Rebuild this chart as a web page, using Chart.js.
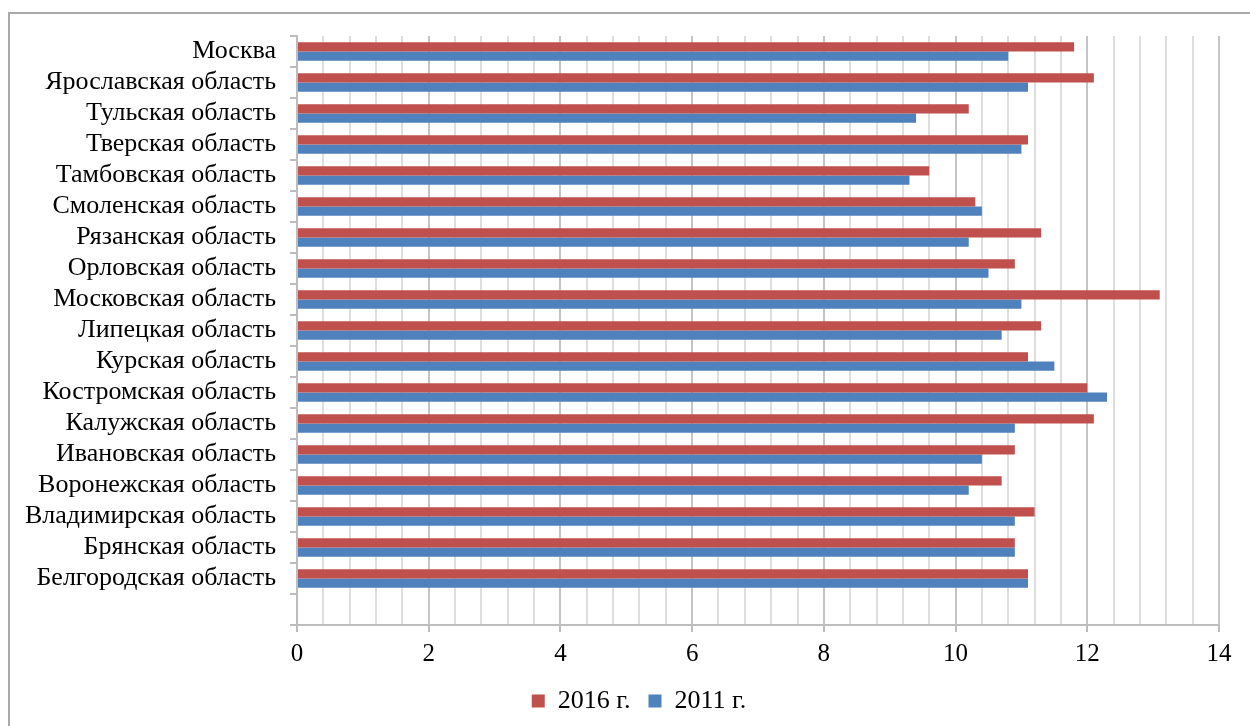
<!DOCTYPE html>
<html lang="ru">
<head>
<meta charset="utf-8">
<title>Регионы ЦФО: 2011 и 2016 гг.</title>
<script src="https://cdn.jsdelivr.net/npm/chart.js@4"></script>
<style>
  html, body { margin: 0; padding: 0; background: #fff; }
  #wrap { position: relative; width: 1250px; height: 726px; overflow: hidden; }
  #frame {
    position: absolute; left: 8px; top: 12px; width: 1300px; height: 800px;
    border: 2px solid #a9a9a9; box-sizing: border-box; pointer-events: none;
  }
  canvas { position: absolute; left: 0; top: 0; }
</style>
</head>
<body>
<div id="wrap">
  <div id="frame"></div>
  <canvas id="chart" width="1250" height="726"></canvas>
</div>
<script>
// Regions, top to bottom; the last slot is left empty under the bars
const regions = [
  'Москва',
  'Ярославская область',
  'Тульская область',
  'Тверская область',
  'Тамбовская область',
  'Смоленская область',
  'Рязанская область',
  'Орловская область',
  'Московская область',
  'Липецкая область',
  'Курская область',
  'Костромская область',
  'Калужская область',
  'Ивановская область',
  'Воронежская область',
  'Владимирская область',
  'Брянская область',
  'Белгородская область',
  ''
];

const values2016 = [11.8, 12.1, 10.2, 11.1, 9.6, 10.3, 11.3, 10.9, 13.1, 11.3, 11.1, 12.0, 12.1, 10.9, 10.7, 11.2, 10.9, 11.1, null];
const values2011 = [10.8, 11.1, 9.4, 11.0, 9.3, 10.4, 10.2, 10.5, 11.0, 10.7, 11.5, 12.3, 10.9, 10.4, 10.2, 10.9, 10.9, 11.1, null];

const seriesNames = ['2016 г.', '2011 г.'];

// Value axis: labelled every 2, light grid every 0.4
const xTickLabels = ['0', '2', '4', '6', '8', '10', '12', '14'];
const xMax = 14;
const minorPerMajor = 5;

const serif = '"Liberation Serif", "Times New Roman", serif';

// Centre the legend row under the frame rather than under the canvas
const legendShift = {
  id: 'legendShift',
  beforeDraw(chart) {
    const lg = chart.legend;
    if (!lg) return;
    const w = lg.right - lg.left;
    lg.left = 639 - w / 2;
    lg.right = lg.left + w;
  }
};

new Chart(document.getElementById('chart'), {
  type: 'bar',
  data: {
    labels: regions,
    datasets: [
      { label: seriesNames[0], data: values2016, backgroundColor: '#c0504d', borderWidth: 0 },
      { label: seriesNames[1], data: values2011, backgroundColor: '#4f81bd', borderWidth: 0 }
    ]
  },
  plugins: [legendShift],
  options: {
    indexAxis: 'y',
    responsive: false,
    devicePixelRatio: 1,
    animation: false,
    datasets: { bar: { categoryPercentage: 0.6, barPercentage: 1.0 } },
    layout: { padding: { left: 0, right: 31, top: 36, bottom: 2 } },
    plugins: {
      tooltip: { enabled: false },
      legend: {
        position: 'bottom',
        labels: {
          font: { family: serif, size: 26 },
          color: '#000',
          boxWidth: 13,
          boxHeight: 13,
          padding: 18
        }
      }
    },
    scales: {
      x: {
        type: 'linear',
        min: 0,
        max: xMax,
        afterBuildTicks: (scale) => {
          const n = (xTickLabels.length - 1) * minorPerMajor;
          const t = [];
          for (let i = 0; i <= n; i++) t.push({ value: (i * xMax) / n });
          scale.ticks = t;
        },
        afterFit: (scale) => { scale.height = 45; },
        ticks: {
          autoSkip: false,
          maxRotation: 0,
          padding: 7,
          color: '#000',
          font: { family: serif, size: 25 },
          callback: (v, i) => (i % minorPerMajor === 0 ? xTickLabels[i / minorPerMajor] : '')
        },
        grid: {
          color: (c) => (c.index % minorPerMajor === 0 ? '#c4c4c4' : '#dedede'),
          lineWidth: 2,
          tickLength: 7,
          tickColor: (c) => (c.index % minorPerMajor === 0 ? '#bdbdbd' : 'rgba(0,0,0,0)')
        },
        border: { color: '#bdbdbd', width: 2 }
      },
      y: {
        type: 'category',
        afterFit: (scale) => { scale.width = 297; },
        ticks: {
          autoSkip: false,
          padding: 14,
          color: '#000',
          font: { family: serif, size: 26 }
        },
        grid: {
          offset: true,
          drawOnChartArea: false,
          drawTicks: true,
          tickLength: 7,
          color: '#bdbdbd',
          lineWidth: 2
        },
        border: { color: '#bdbdbd', width: 2 }
      }
    }
  }
});
</script>
</body>
</html>
